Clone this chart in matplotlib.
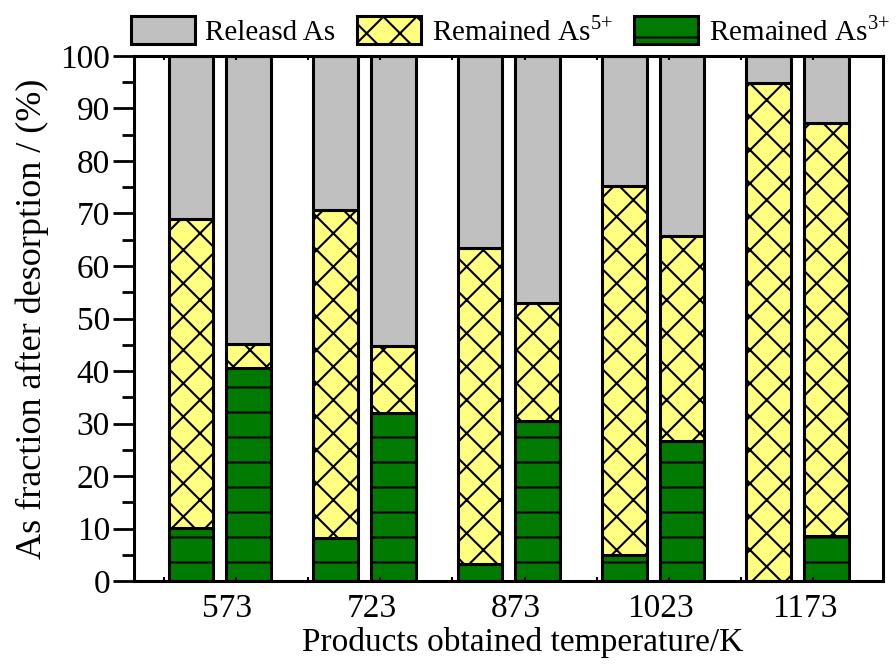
import matplotlib as mpl
import matplotlib.pyplot as plt
import matplotlib.hatch as mhatch
import numpy as np
from matplotlib.backend_bases import GraphicsContextBase
from matplotlib.ticker import MultipleLocator, FixedLocator

# Arsenic fractions (%) after desorption, two samples per temperature
temps = ['573', '723', '873', '1023', '1173']
as3_remained = [10.1, 40.6, 8.2, 32.0, 3.3, 30.5, 5.0, 26.6, 0.0, 8.6]
as5_remained = [58.9, 4.6, 62.4, 12.8, 60.1, 22.5, 70.2, 39.2, 94.8, 78.7]
as_released = [100 - a - b for a, b in zip(as3_remained, as5_remained)]

legend_labels = ['Releasd As', r'Remained As$^{5{+}}$', r'Remained As$^{3{+}}$']

#Wider spacing for the horizontal hatch lines
hatch_density = {'-': 4}

def get_hatch_path(self, density=6.0):
    hatch = self.get_hatch()
    if hatch is None:
        return None
    return mhatch.get_path(hatch, hatch_density.get(hatch, density))

GraphicsContextBase.get_hatch_path = get_hatch_path

#Set text font
mpl.rcParams['font.family'] = 'serif'
mpl.rcParams['font.serif'] = ['Liberation Serif', 'DejaVu Serif']
mpl.rcParams['mathtext.fontset'] = 'custom'
mpl.rcParams['mathtext.rm'] = 'Liberation Serif'
mpl.rcParams['axes.linewidth'] = 2.2
mpl.rcParams['hatch.linewidth'] = 1.5

fig = plt.figure(figsize=(8.96, 6.68), dpi=100)
ax = fig.add_axes([0.149, 0.1302, 0.837, 0.786])

#Bar positions: pairs around each temperature
groups = np.arange(len(temps))
x = np.ravel(np.column_stack([groups - 0.2, groups + 0.2]))
width = 0.31
edge = dict(edgecolor='black', linewidth=2.2)

b3 = ax.bar(x, as3_remained, width, color='#007a00', hatch='-', **edge)
b5 = ax.bar(x, as5_remained, width, bottom=as3_remained, color='#ffff80', hatch='x', **edge)
bottom_rel = [a + b for a, b in zip(as3_remained, as5_remained)]
br = ax.bar(x, as_released, width, bottom=bottom_rel, color='#c0c0c0', **edge)

#Set axis ranges
ax.set_xlim(-0.599, 4.595)
ax.set_ylim(0, 100)

#Set tick numbers and labels
ax.yaxis.set_major_locator(MultipleLocator(10))
ax.yaxis.set_minor_locator(MultipleLocator(5))
ax.set_xticks(groups + 0.05)
ax.set_xticklabels(temps)
ax.xaxis.set_minor_locator(FixedLocator(-0.39 + 0.5 * np.arange(10)))

ax.tick_params(axis='y', which='major', direction='out', length=15, width=2, labelsize=24, pad=2)
ax.tick_params(axis='y', which='minor', direction='out', length=9, width=2)
ax.tick_params(axis='x', which='major', length=0, labelsize=24, pad=9)
ax.tick_params(axis='x', which='minor', direction='in', length=3, width=1.5, top=True)

#Set axis labels
ax.set_ylabel('As fraction after desorption / (%)', fontsize=26, labelpad=8)
ax.set_xlabel('Products obtained temperature/K', fontsize=24, labelpad=2, x=0.519)

#Legend above the plot
leg = fig.legend([br, b5, b3], legend_labels, loc='center left', bbox_to_anchor=(0.146, 0.953),
                 ncol=3, frameon=False, fontsize=21, handlelength=2.2, handleheight=1.1,
                 handletextpad=0.35, columnspacing=0.75, borderpad=0, borderaxespad=0)

plt.savefig('out.png', dpi=100)
